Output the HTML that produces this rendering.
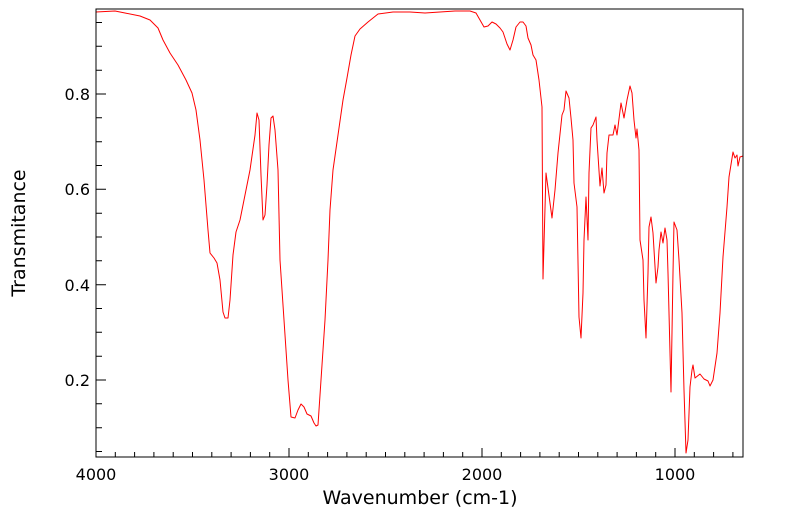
<!DOCTYPE html>
<html><head><meta charset="utf-8"><style>body{margin:0;background:#fff}svg{display:block}</style></head><body>
<svg width="799" height="516" viewBox="0 0 799 516" xmlns="http://www.w3.org/2000/svg" font-family="DejaVu Sans, sans-serif">
<rect width="799" height="516" fill="#fff"/>
<polyline fill="none" stroke="#ff0000" stroke-width="1" stroke-linejoin="round" points="96,12 115,11 125,13 140,16 150,20 158,28 163,40 170,53 178,65 186,80 192,93 196,110 200,140 204,180 208,230 210,253 214,258 217,263 220,280 223,312 225,318 228,318 230,300 233,255 236,232 240,220 245,195 250,170 255,135 257,113 259,120 261,175 263,220 265,215 267,185 269,145 271,118 273,116 275,130 278,170 280,260 284,320 288,380 291,417 295,418 298,410 301,404 304,407 307,414 311,416 314,423 316,426 318,425 321,380 325,320 328,260 330,210 333,170 338,135 343,100 347,78 351,55 355,36 360,29 368,22 378,14 393,12 410,12 425,13 440,12 455,11 470,11 476,13 480,20 484,27 488,26 492,22 496,24 500,28 503,32 507,44 510,50 513,40 516,27 520,22 523,22 526,26 528,38 531,45 533,55 536,60 539,80 542,107 543,279 546,173 552,218 555,190 558,153 562,115 564,110 566,91 569,98 571,118 573,140 574,183 577,207 579,317 581,338 583,293 584,240 586,197 588,240 589,173 591,128 593,125 596,117 597,140 600,186 602,168 604,193 606,185 607,153 609,135 613,135 615,125 617,135 621,103 624,118 627,100 630,86 632,93 634,120 636,138 637,129 639,150 640,240 643,260 644,300 646,338 648,273 649,227 651,217 653,233 656,283 658,267 659,250 661,232 663,243 665,228 667,240 668,273 671,392 673,273 674,222 677,230 679,260 682,313 684,390 686,453 688,440 690,387 692,370 693,365 695,378 700,374 704,379 708,381 710,386 713,380 717,353 720,313 723,257 727,207 729,177 733,152 735,158 737,155 738,166 740,157 743,156"/>
<path stroke="#000" stroke-width="1" fill="none" d="
M96,22.5h6 M96,46.3h6 M96,70.2h6 M96,94h10 M96,117.8h6 M96,141.7h6 M96,165.5h6 M96,189.3h10 M96,213.2h6 M96,237h6 M96,260.8h6 M96,284.7h10 M96,308.5h6 M96,332.3h6 M96,356.2h6 M96,380h10 M96,403.8h6 M96,427.7h6 M96,451.5h6
M96,457v-9 M115.3,457v-5 M134.6,457v-5 M153.9,457v-5 M173.2,457v-5 M192.5,457v-5 M211.8,457v-5 M231.1,457v-5 M250.4,457v-5 M269.7,457v-5
M289,457v-9 M308.3,457v-5 M327.6,457v-5 M346.9,457v-5 M366.2,457v-5 M385.5,457v-5 M404.8,457v-5 M424.1,457v-5 M443.4,457v-5 M462.7,457v-5
M482,457v-9 M501.3,457v-5 M520.6,457v-5 M539.9,457v-5 M559.2,457v-5 M578.5,457v-5 M597.8,457v-5 M617.1,457v-5 M636.4,457v-5 M655.7,457v-5
M675,457v-9 M694.3,457v-5 M713.6,457v-5 M732.9,457v-5"/>
<rect x="96" y="9" width="647" height="448" fill="none" stroke="#000" stroke-width="1"/>
<g font-size="16" fill="#000">
<text x="90" y="100" text-anchor="end">0.8</text>
<text x="90" y="195" text-anchor="end">0.6</text>
<text x="90" y="291" text-anchor="end">0.4</text>
<text x="90" y="386" text-anchor="end">0.2</text>
<text x="96" y="480" text-anchor="middle">4000</text>
<text x="289" y="480" text-anchor="middle">3000</text>
<text x="482" y="480" text-anchor="middle">2000</text>
<text x="675" y="480" text-anchor="middle">1000</text>
</g>
<g font-size="19" fill="#000">
<text x="420" y="504" text-anchor="middle">Wavenumber (cm-1)</text>
<text transform="translate(25,233) rotate(-90)" text-anchor="middle">Transmitance</text>
</g>
</svg>
</body></html>
